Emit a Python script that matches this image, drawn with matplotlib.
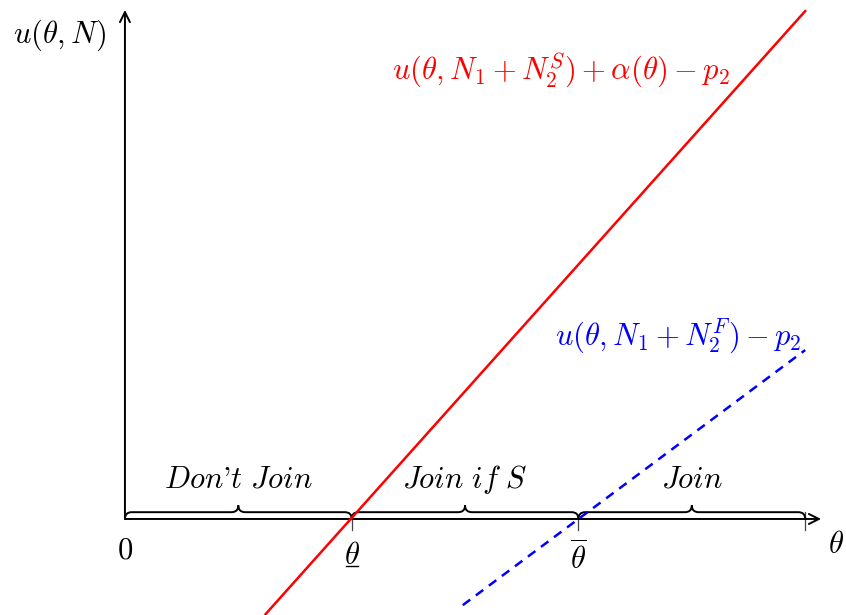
import matplotlib
matplotlib.use("Agg")
import matplotlib.pyplot as plt
from matplotlib.path import Path
from matplotlib.patches import PathPatch

plt.rcParams['mathtext.fontset'] = 'cm'
plt.rcParams['font.family'] = 'serif'
plt.rcParams['font.serif'] = ['cmr10']
plt.rcParams['axes.formatter.use_mathtext'] = True

# theta positions of the thresholds (0, theta_low, theta_high, end)
theta_marks = [0, 1, 2, 3]
region_labels = [r"$\mathit{Don}$'$\mathit{t\ Join}$", r"$\mathit{Join\ if\ S}$", r"$\mathit{Join}$"]

# red solid: u(theta, N1 + N2^S) + alpha(theta) - p2
red_x = [0.62, 3.0]
red_y = [-0.42, 2.24]
# blue dashed: u(theta, N1 + N2^F) - p2
blue_x = [1.49, 3.0]
blue_y = [-0.38, 0.745]

FS = 22

fig = plt.figure(figsize=(8.46, 6.15), dpi=100)
ax = fig.add_axes([0, 0, 1, 1])
ax.set_xlim(-0.551, 3.180)
ax.set_ylim(-0.4235, 2.289)
ax.axis('off')

# axes with arrows
ax.annotate('', xy=(3.07, 0), xytext=(0, 0),
            arrowprops=dict(arrowstyle='->', lw=1.4, color='black',
                            shrinkA=0, shrinkB=0, mutation_scale=18))
ax.annotate('', xy=(0, 2.245), xytext=(0, 0),
            arrowprops=dict(arrowstyle='->', lw=1.4, color='black',
                            shrinkA=0, shrinkB=0, mutation_scale=18))

# small ticks below the axis
for t in theta_marks[1:]:
    ax.plot([t, t], [0, -0.05], color='#444444', lw=0.9, zorder=2)
ax.plot([theta_marks[-1]] * 2, [0, 0.03], color='#444444', lw=0.9, zorder=2)


def brace(x0, x1, y, a):
    xm = (x0 + x1) / 2
    verts = [(x0, y),
             (x0, y + a), (x0 + a, y + a),
             (xm - a, y + a),
             (xm, y + a), (xm, y + 2 * a),
             (xm, y + a), (xm + a, y + a),
             (x1 - a, y + a),
             (x1, y + a), (x1, y)]
    codes = [Path.MOVETO,
             Path.CURVE3, Path.CURVE3,
             Path.LINETO,
             Path.CURVE3, Path.CURVE3,
             Path.CURVE3, Path.CURVE3,
             Path.LINETO,
             Path.CURVE3, Path.CURVE3]
    ax.add_patch(PathPatch(Path(verts, codes), fill=False, lw=1.4,
                           edgecolor='black', zorder=3))


for i, lab in enumerate(region_labels):
    x0, x1 = theta_marks[i], theta_marks[i + 1]
    brace(x0, x1, 0.0, 0.03)
    ax.text((x0 + x1) / 2, 0.137, lab, ha='center', va='baseline', fontsize=FS)

# curves
ax.plot(red_x, red_y, color='red', lw=1.8, zorder=4)
ax.plot(blue_x, blue_y, color='blue', lw=1.8, ls=(0, (3.7, 2.8)), zorder=4)

# tick labels
ax.text(theta_marks[0], -0.141, r'$0$', ha='center', va='center', fontsize=FS)
ax.text(theta_marks[1], -0.165, r'$\theta$', ha='center', va='center', fontsize=FS)
ax.plot([theta_marks[1] - 0.027, theta_marks[1] + 0.03], [-0.207, -0.207],
        color='black', lw=1.0)
ax.text(theta_marks[2], -0.17, r'$\overline{\theta}$', ha='center', va='center', fontsize=FS)

# axis labels
ax.text(3.10, -0.115, r'$\theta$', ha='left', va='center', fontsize=FS)
ax.text(-0.287, 2.135, r'$u(\theta,N)$', ha='center', va='center', fontsize=FS)

# curve labels
ax.text(1.923, 1.98, r'$u(\theta,N_1+N_2^S)+\alpha(\theta)-p_2$', ha='center',
        va='center', fontsize=FS, color='red')
ax.text(2.44, 0.81, r'$u(\theta,N_1+N_2^F)-p_2$', ha='center',
        va='center', fontsize=FS, color='blue')

fig.savefig('out.png', dpi=100)
